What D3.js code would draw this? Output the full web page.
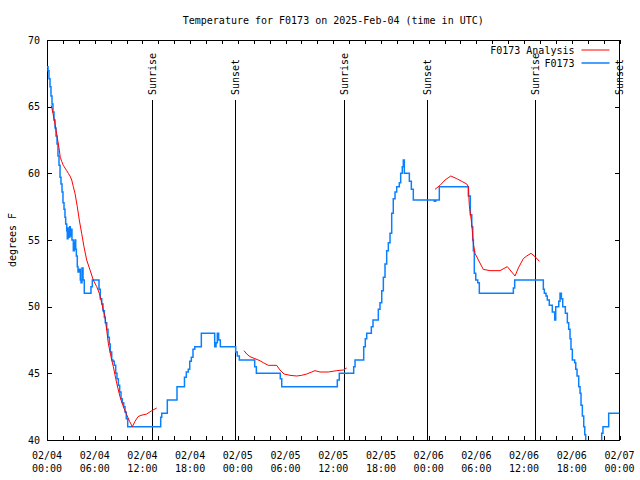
<!DOCTYPE html>
<html><head><meta charset="utf-8">
<script src="https://cdn.jsdelivr.net/npm/d3@7"></script>
<style>
body{margin:0;background:#fff}
text{font-family:"DejaVu Sans Mono","Liberation Mono",monospace;font-size:10px;fill:#000}
</style>
</head><body>
<svg id="c" width="640" height="480"></svg>
<script>
const title = "Temperature for F0173 on 2025-Feb-04 (time in UTC)";
const yLabel = "degrees F";
const seriesNames = ["F0173 Analysis", "F0173"];
const seriesColors = ["#ff0000", "#0a80ff"];
const yTicks = [40, 45, 50, 55, 60, 65, 70];
const startUTC = Date.UTC(2025, 1, 4, 0, 0);
const spanHours = 72;
const sunEventNames = ["Sunrise", "Sunset", "Sunrise", "Sunset", "Sunrise", "Sunset"];
const sunEventHours = [13.24, 23.68, 37.39, 47.83, 61.38, 71.94];

// observations (hours since 02/04 00:00 UTC, deg F), stepped
const obsHours = [0.00,0.13,0.25,0.38,0.50,0.63,0.75,0.88,1.01,1.13,1.26,1.38,1.51,1.64,1.76,1.89,2.01,2.14,2.26,2.35,
  2.48,2.55,2.64,2.73,2.85,2.93,3.02,3.14,3.31,3.43,3.52,3.61,3.69,3.81,3.90,4.06,4.19,4.28,4.40,4.53,
  4.69,5.53,5.70,6.54,6.70,6.88,7.04,7.21,7.33,7.51,7.67,7.84,7.96,8.14,8.30,8.46,8.64,8.80,8.97,9.14,
  9.31,9.47,9.65,9.81,9.97,10.15,14.30,14.43,15.13,16.35,17.29,17.52,17.77,17.95,18.15,18.36,18.58,19.41,21.09,21.26,
  21.42,21.59,21.80,23.73,23.93,24.19,26.12,26.33,29.34,29.52,36.51,36.76,38.57,38.74,39.83,40.03,40.21,40.79,41.00,41.67,
  41.88,42.10,42.30,42.51,42.72,42.93,43.14,43.35,43.55,43.77,43.98,44.31,44.48,44.68,44.81,44.94,45.57,45.82,46.07,48.71,
  48.89,49.34,52.99,53.24,53.42,53.54,53.62,53.74,53.92,54.17,54.37,58.65,58.82,62.42,62.55,62.76,62.92,63.17,63.55,63.85,
  63.98,64.36,64.52,64.69,64.86,65.19,65.44,65.61,65.78,65.90,66.07,66.37,66.50,66.66,66.87,67.04,67.16,67.33,67.50,67.63,
  67.75,68.04,68.92,69.61,69.76,69.92,70.64,72.00];
const obsTemps = [68.0,67.7,67.1,66.5,65.8,65.2,64.6,64.0,63.4,62.8,62.2,61.3,60.6,59.7,59.2,58.6,57.8,57.3,56.7,56.2,
  55.7,55.1,55.9,55.2,56.0,55.3,55.8,55.0,54.2,54.8,55.0,54.3,53.8,53.0,52.6,52.8,52.0,51.8,52.9,52.0,
  51.0,51.5,52.0,51.3,50.6,50.2,49.7,49.2,48.8,48.3,47.7,47.2,46.6,46.0,45.9,45.6,45.0,44.6,44.1,43.6,
  43.1,42.8,42.5,42.1,41.6,41.0,41.7,42.0,43.0,44.0,44.7,45.1,45.3,45.9,46.2,46.8,47.0,48.0,47.0,47.3,
  48.0,47.5,47.0,46.6,46.3,46.0,45.5,45.0,44.6,44.0,44.5,45.0,45.5,46.0,47.0,47.6,48.0,48.5,49.0,49.8,
  50.3,51.2,52.2,53.2,54.2,54.8,55.5,57.0,58.1,58.6,59.0,59.3,60.0,60.5,61.0,60.0,59.4,58.8,58.0,57.9,
  58.0,59.0,58.3,56.9,56.0,55.0,54.2,52.5,52.0,51.8,51.0,51.4,52.0,51.3,51.0,50.8,50.5,50.1,49.6,49.0,
  50.0,50.4,51.0,50.6,50.0,49.5,48.8,48.3,47.6,46.8,46.0,45.8,45.3,44.8,44.0,43.5,42.6,41.8,41.0,40.4,
  39.5,39.0,38.8,39.6,40.5,41.0,42.0,42.0];

// analysis (hours since 02/04 00:00 UTC, deg F); null marks a gap
const anaHours = [0.54,0.75,1.01,1.26,1.51,1.67,1.85,2.05,2.26,2.48,2.68,2.89,3.11,3.31,3.52,3.81,4.06,4.36,4.65,4.99,
  5.41,5.82,6.25,6.58,6.88,7.08,7.29,7.51,7.71,7.93,8.14,8.34,8.77,9.18,9.60,10.02,10.38,10.73,11.07,11.45,
  11.82,12.54,13.17,13.80,null,
  24.78,25.12,25.53,26.15,26.78,27.20,27.83,28.89,29.30,29.81,30.56,31.40,32.03,32.66,33.29,33.71,34.33,35.38,36.44,37.27,
  37.69,null,
  48.80,49.43,50.06,50.78,51.53,52.16,52.79,52.99,53.11,53.41,53.62,53.83,54.25,54.87,55.71,56.97,57.89,58.86,59.28,59.90,
  60.33,60.87,61.38,61.92];
const anaTemps = [65.1,64.5,63.7,62.8,61.9,61.2,60.9,60.6,60.4,60.2,60.0,59.8,59.5,59.0,58.5,57.5,56.5,55.5,54.5,53.5,
  52.75,52.0,51.5,51.0,50.3,49.75,49.25,48.25,47.25,46.6,46.0,45.5,44.25,43.25,42.5,41.9,41.4,41.0,41.4,41.75,
  41.85,41.95,42.2,42.4,null,
  46.7,46.45,46.25,46.1,45.95,45.8,45.6,45.6,45.25,44.95,44.85,44.8,44.85,44.95,45.1,45.2,45.1,45.1,45.2,45.25,
  45.4,null,
  58.8,59.1,59.5,59.8,59.6,59.4,59.2,59.0,57.6,56.25,54.75,54.0,53.5,52.8,52.7,52.7,53.0,52.3,52.9,53.6,
  53.8,54.0,53.75,53.4];

const W = 640, H = 480;
const P = {left: 47, right: 619.5, top: 40, bottom: 440};
const toDate = h => new Date(startUTC + h * 3600e3);

const svg = d3.select("#c");
const x = d3.scaleUtc().domain([toDate(0), toDate(spanHours)]).range([P.left, P.right]);
const y = d3.scaleLinear().domain([40, 70]).range([P.bottom, P.top]);

svg.append("rect").attr("width", W).attr("height", H).attr("fill", "#fff");

svg.append("defs").append("clipPath").attr("id", "clip")
  .append("rect").attr("x", P.left).attr("y", P.top)
  .attr("width", P.right - P.left).attr("height", P.bottom - P.top);

// ticks
const xTickVals = d3.range(0, spanHours + 0.1, 2).map(toDate);
const xLabelVals = d3.range(0, spanHours + 0.1, 6).map(toDate);
const fmtD = d3.utcFormat("%m/%d"), fmtT = d3.utcFormat("%H:%M");

const gB = svg.append("g").attr("transform", `translate(0,${P.bottom})`)
  .call(d3.axisBottom(x).tickValues(xTickVals).tickSizeInner(-4).tickSizeOuter(0).tickFormat(""));
const gT = svg.append("g").attr("transform", `translate(0,${P.top})`)
  .call(d3.axisTop(x).tickValues(xTickVals).tickSizeInner(-4).tickSizeOuter(0).tickFormat(""));
const gL = svg.append("g").attr("transform", `translate(${P.left},0)`)
  .call(d3.axisLeft(y).tickValues(yTicks).tickSizeInner(-5).tickSizeOuter(0).tickPadding(7).tickFormat(d3.format("d")));
const gR = svg.append("g").attr("transform", `translate(${P.right},0)`)
  .call(d3.axisRight(y).tickValues(yTicks).tickSizeInner(-5).tickSizeOuter(0).tickFormat(""));
[gB, gT, gL, gR].forEach(g => {
  g.select(".domain").remove();
  g.selectAll("line").attr("stroke", "#000").attr("shape-rendering", "crispEdges");
  g.selectAll("text").attr("font-family", null).attr("font-size", null).attr("fill", "#000");
});

// x labels (two lines)
const xl = svg.append("g").selectAll("text").data(xLabelVals).join("text")
  .attr("x", d => x(d)).attr("y", P.bottom + 19).attr("text-anchor", "middle");
xl.append("tspan").attr("x", d => x(d)).text(d => fmtD(d));
xl.append("tspan").attr("x", d => x(d)).attr("dy", 13).text(d => fmtT(d));

// frame
svg.append("rect").attr("x", P.left).attr("y", P.top)
  .attr("width", P.right - P.left).attr("height", P.bottom - P.top)
  .attr("fill", "none").attr("stroke", "#000").attr("shape-rendering", "crispEdges");

// sun events
const sunTop = P.top + 60;
const sg = svg.append("g");
sunEventHours.forEach((h, i) => {
  const xx = x(toDate(h));
  sg.append("line").attr("x1", xx).attr("x2", xx).attr("y1", sunTop).attr("y2", P.bottom)
    .attr("stroke", "#000").attr("stroke-width", 1).attr("shape-rendering", "crispEdges");
  sg.append("text").attr("transform", `translate(${xx},${sunTop - 5}) rotate(-90)`)
    .attr("text-anchor", "start").attr("dy", "0.35em").text(sunEventNames[i]);
});

// series
const obs = obsHours.map((h, i) => ({t: toDate(h), v: obsTemps[i]}));
const ana = anaHours.map((h, i) => ({t: h == null ? null : toDate(h), v: anaTemps[i]}));

const plot = svg.append("g").attr("clip-path", "url(#clip)");
plot.append("path").datum(obs)
  .attr("d", d3.line().x(d => x(d.t)).y(d => y(d.v)).curve(d3.curveStepAfter))
  .attr("fill", "none").attr("stroke", seriesColors[1]).attr("stroke-width", 1.5);
plot.append("path").datum(ana)
  .attr("d", d3.line().defined(d => d.v != null).x(d => x(d.t)).y(d => y(d.v)))
  .attr("fill", "none").attr("stroke", seriesColors[0]).attr("stroke-width", 1);

// legend
const lg = svg.append("g");
seriesNames.forEach((n, i) => {
  const ly = P.top + 10 + i * 13;
  lg.append("text").attr("x", P.right - 45).attr("y", ly).attr("dy", "0.35em")
    .attr("text-anchor", "end").text(n);
  lg.append("line").attr("x1", P.right - 38).attr("x2", P.right - 10).attr("y1", ly).attr("y2", ly)
    .attr("stroke", seriesColors[i]).attr("stroke-width", i === 1 ? 1.5 : 1);
});

// title and y label
svg.append("text").attr("x", (P.left + P.right) / 2).attr("y", 20).attr("dy", "0.35em")
  .attr("text-anchor", "middle").text(title);
svg.append("text").attr("transform", `translate(12,${(P.top + P.bottom) / 2}) rotate(-90)`)
  .attr("text-anchor", "middle").attr("dy", "0.35em").text(yLabel);
</script>
</body></html>
